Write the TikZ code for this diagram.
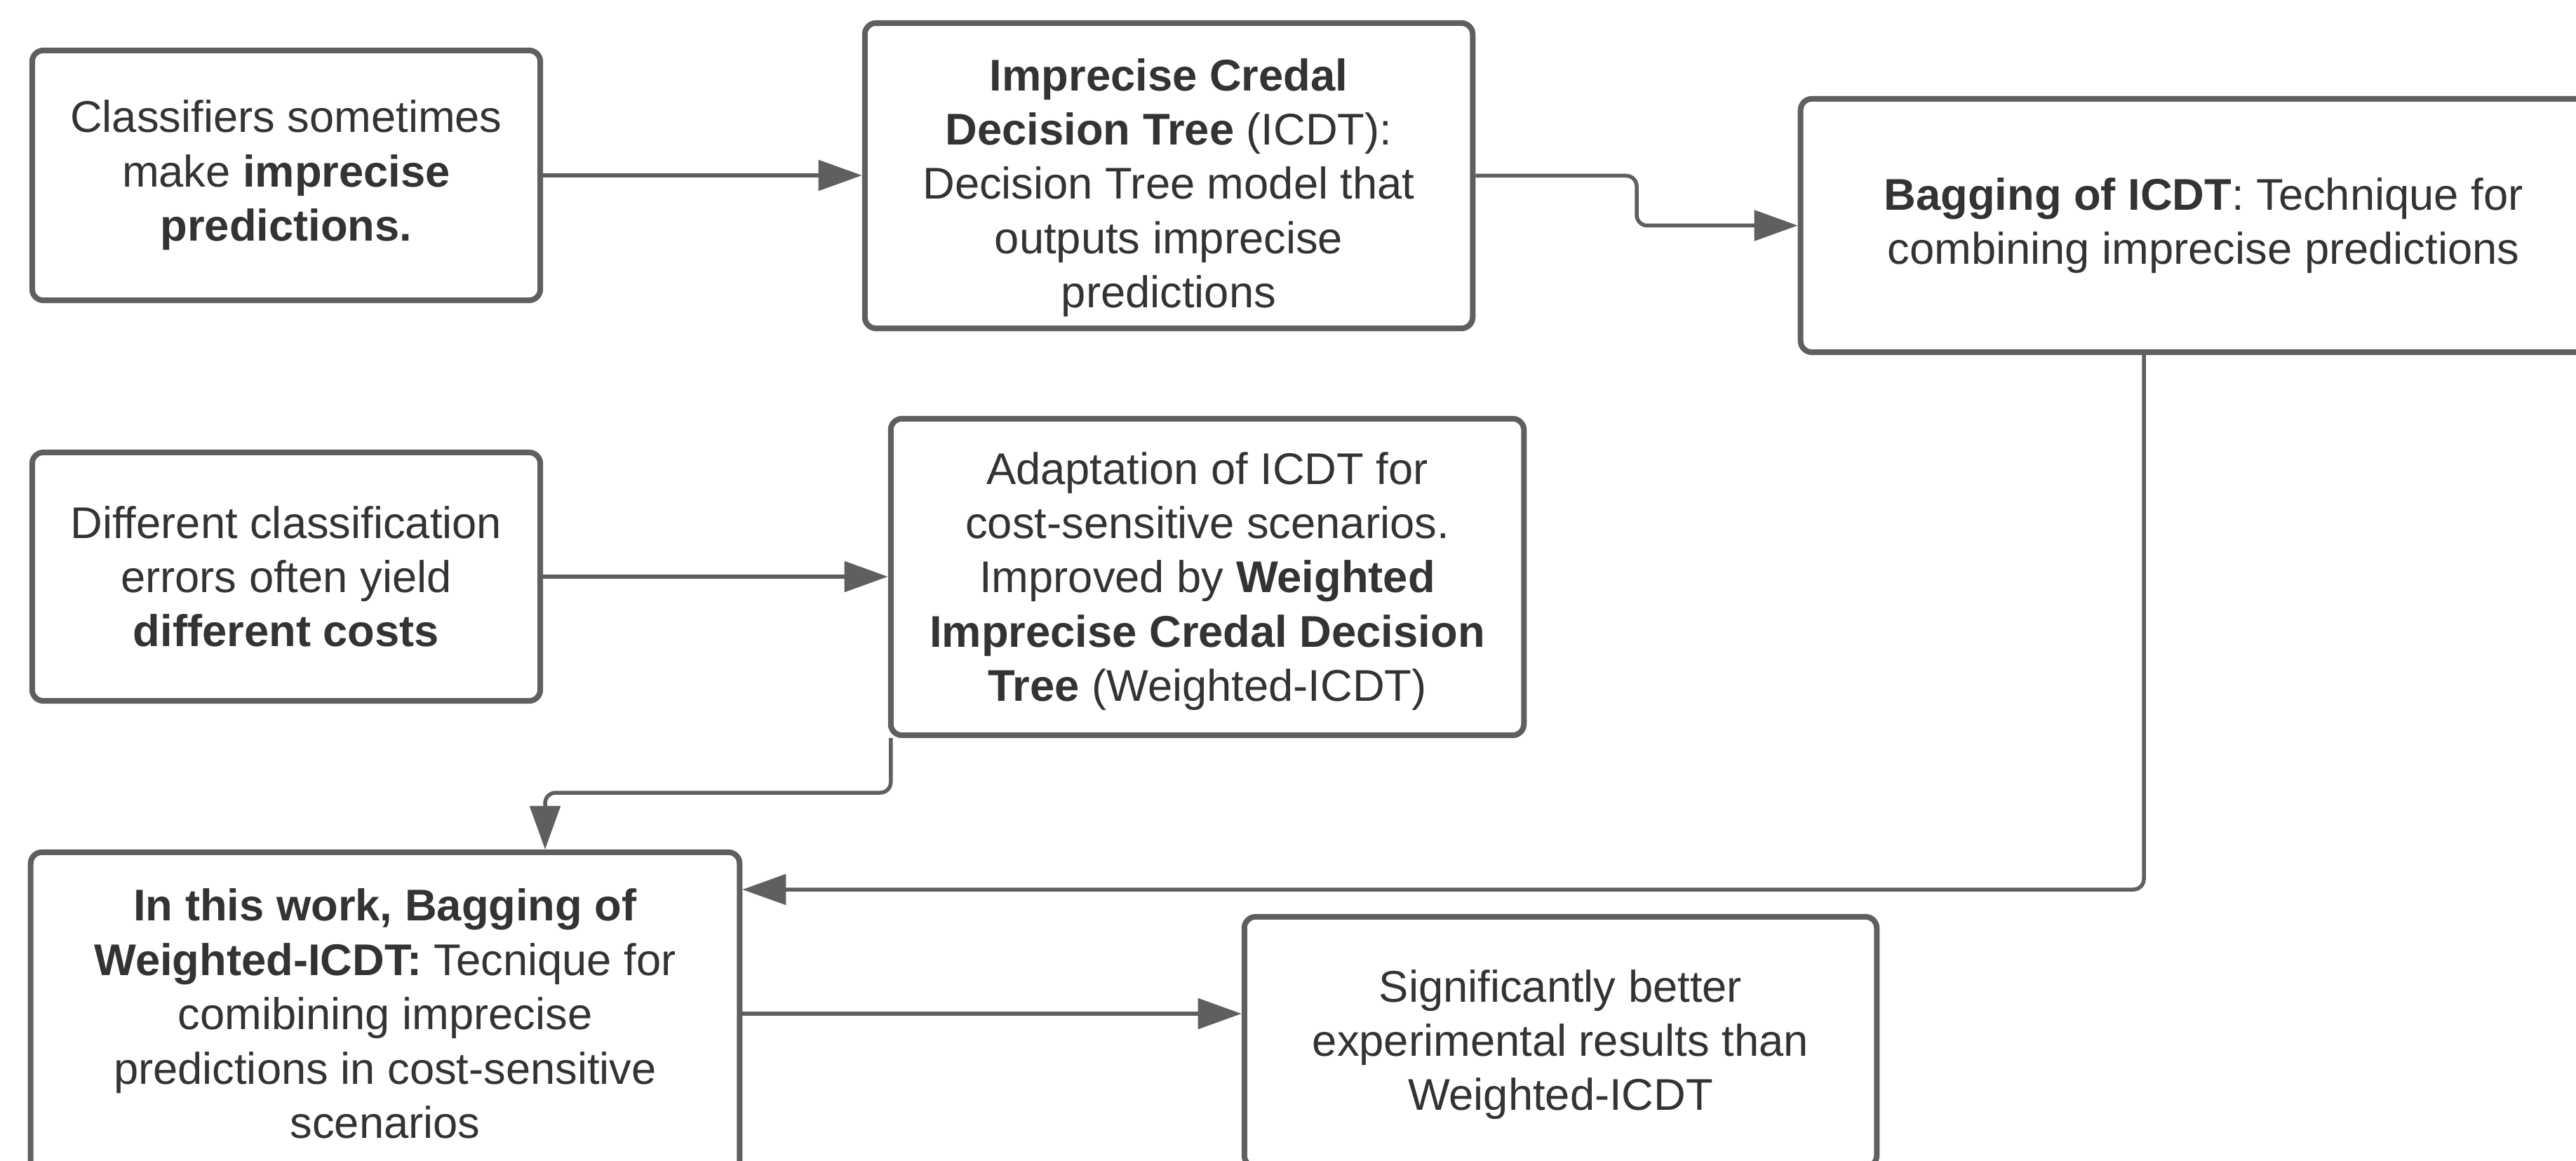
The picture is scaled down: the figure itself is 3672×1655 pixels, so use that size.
\documentclass[tikz,border=0pt]{standalone}
\usepackage{fontspec}
\setmainfont{Liberation Sans}
\usetikzlibrary{arrows.meta}
\definecolor{edgegray}{HTML}{5F5F5F}
\definecolor{inkgray}{HTML}{333333}
% centred lines of text, lowered by the given amount inside their box
\newcommand{\lowertext}[2]{\raisebox{-#1}[\height][\depth]{\begin{tabular}{@{}c@{}}#2\end{tabular}}}

\begin{document}
\begin{tikzpicture}[x=0.01cm, y=-0.01cm,
  box/.style={draw=edgegray, line width=0.08cm, rounded corners=0.16cm,
    fill=white, align=center, text=inkgray, inner sep=0pt,
    font=\fontsize{18}{22}\selectfont},
  link/.style={draw=edgegray, line width=0.055cm, rounded corners=0.15cm,
    -{Triangle[length=0.62cm, width=0.43cm]}}]

% page frame
\useasboundingbox (0,0) rectangle (3672,1655);
\clip (0,0) rectangle (3672,1655);
\fill[white] (0,0) rectangle (3672,1655);

% boxes
\node[box, minimum width=7.24cm, minimum height=3.56cm] (A) at (408,250)
  {Classifiers sometimes\\ make \textbf{imprecise}\\ \textbf{predictions.}};
\node[box, minimum width=8.66cm, minimum height=4.35cm] (B) at (1666,250.5)
  {\lowertext{0.18cm}{\textbf{Imprecise Credal}\\ \textbf{Decision Tree} (ICDT):\\ Decision Tree model that\\ outputs imprecise\\ predictions}};
\node[box, minimum width=11.48cm, minimum height=3.61cm] (C) at (3141,321.5)
  {\textbf{Bagging of ICDT}: Technique for\\ combining imprecise predictions};
\node[box, minimum width=7.24cm, minimum height=3.54cm] (D) at (408,822)
  {Different classification\\ errors often yield\\ \textbf{different costs}};
\node[box, minimum width=9.02cm, minimum height=4.51cm] (E) at (1721,822.5)
  {\lowertext{0.07cm}{Adaptation of ICDT for\\ cost-sensitive scenarios.\\ Improved by \textbf{Weighted}\\ \textbf{Imprecise Credal Decision}\\ \textbf{Tree} (Weighted-ICDT)}};
\node[box, minimum width=10.10cm, minimum height=4.60cm] (F) at (549,1445)
  {\textbf{In this work, Bagging of}\\ \textbf{Weighted-ICDT:} Tecnique for\\ comibining imprecise\\ predictions in cost-sensitive\\ scenarios};
\node[box, minimum width=9.01cm, minimum height=3.56cm] (G) at (2224.5,1485)
  {\lowertext{0.05cm}{Significantly better\\ experimental results than\\ Weighted-ICDT}};

% bend points of the connectors
\coordinate (bc) at (2333,322);
\coordinate (ef) at (777,1130);
\coordinate (cf) at (3056,1268);

% connectors
\draw[link] (A.east) -- (A.east -| B.west);
\draw[link] (B.east) -- (B.east -| bc) |- (C.west);
\draw[link] (D.east) -- (D.east -| E.west);
\draw[link] ([xshift=0.04cm]E.south west) |- (ef) -- (ef |- F.north);
\draw[link] (C.south -| cf) |- (F.east |- cf);
\draw[link] (F.east) -- (F.east -| G.west);
\end{tikzpicture}
\end{document}
